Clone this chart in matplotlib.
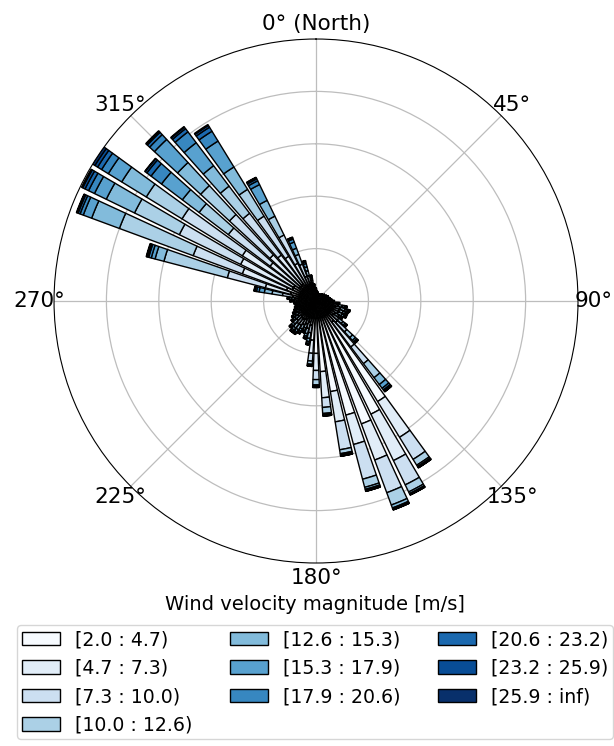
import numpy as np
import matplotlib
matplotlib.use("Agg")
import matplotlib.pyplot as plt
from matplotlib.patches import Patch

# 64 direction sectors, centred on multiples of 5.625 deg (clockwise from north)
n_sector = 64

bin_labels = ['[2.0 : 4.7)', '[4.7 : 7.3)', '[7.3 : 10.0)', '[10.0 : 12.6)',
              '[12.6 : 15.3)', '[15.3 : 17.9)', '[17.9 : 20.6)',
              '[20.6 : 23.2)', '[23.2 : 25.9)', '[25.9 : inf)']

theta_labels = ['0° (North)', '45°', '90°', '135°', '180°', '225°', '270°', '315°']

# frequency per sector for each speed bin (sector 0 = north)
freq_b0 = [.015, .012, .011, .010, .010, .010, .010, .011,
           .011, .012, .012, .014, .015, .015, .017, .018,
           .021, .027, .036, .040, .039, .039, .036, .045,
           .050, .100, .450, .480, .500, .450, .350, .270,
           .200, .150, .051, .045, .039, .042, .045, .045,
           .042, .036, .033, .030, .027, .026, .024, .026,
           .030, .033, .040, .100, .120, .100, .100, .080,
           .080, .080, .070, .060, .040, .030, .025, .018]
freq_b1 = [.013, .010, .009, .008, .008, .008, .008, .009,
           .009, .010, .010, .011, .013, .013, .014, .015,
           .018, .023, .030, .034, .033, .033, .030, .038,
           .060, .120, .160, .197, .147, .116, .117, .100,
           .065, .050, .043, .038, .033, .035, .038, .038,
           .035, .030, .028, .025, .023, .021, .020, .021,
           .025, .028, .050, .100, .180, .220, .230, .140,
           .160, .140, .130, .100, .060, .040, .025, .016]
freq_b2 = [.008, .007, .006, .005, .005, .005, .005, .006,
           .006, .007, .007, .008, .008, .008, .009, .010,
           .012, .015, .020, .023, .022, .022, .020, .026,
           .050, .080, .099, .103, .133, .137, .108, .037,
           .035, .030, .029, .026, .022, .024, .026, .026,
           .024, .020, .019, .017, .015, .014, .014, .014,
           .017, .019, .040, .150, .200, .260, .270, .200,
           .210, .200, .180, .120, .050, .030, .018, .012]
freq_b3 = [.006, .005, .004, .004, .004, .004, .004, .004,
           .004, .005, .005, .006, .006, .006, .007, .008,
           .009, .012, .016, .018, .017, .017, .016, .020,
           .030, .067, .026, .030, .050, .032, .015, .023,
           .020, .012, .022, .020, .017, .018, .020, .020,
           .018, .016, .014, .013, .012, .011, .010, .011,
           .013, .014, .040, .250, .300, .190, .160, .140,
           .150, .130, .120, .080, .040, .020, .012, .008]
freq_b4 = [.004, .003, .002, .002, .002, .002, .002, .002,
           .002, .003, .003, .003, .004, .004, .004, .004,
           .005, .006, .008, .009, .009, .009, .008, .010,
           .015, .033, .006, .007, .012, .008, .005, .005,
           .005, .004, .012, .010, .009, .010, .010, .010,
           .010, .008, .008, .007, .006, .006, .006, .006,
           .007, .008, .030, .035, .113, .120, .110, .080,
           .120, .098, .100, .067, .025, .015, .008, .005]
freq_b5 = [.002, .002, .002, .001, .001, .001, .001, .002,
           .002, .002, .002, .002, .002, .002, .002, .003,
           .003, .004, .005, .005, .005, .005, .005, .006,
           .007, .018, .003, .003, .004, .004, .002, .002,
           .002, .002, .007, .006, .005, .006, .006, .006,
           .006, .005, .004, .004, .004, .004, .003, .004,
           .004, .004, .020, .015, .034, .050, .060, .100,
           .120, .110, .116, .067, .025, .013, .006, .003]
freq_b6 = [.001, .001, .001, 0, 0, 0, 0, .001,
           .001, .001, .001, .001, .001, .001, .001, .001,
           .001, .002, .003, .003, .003, .003, .003, .003,
           .004, .008, .001, .001, .002, .002, .001, .001,
           .001, .001, .003, .003, .003, .003, .003, .003,
           .003, .003, .002, .002, .002, .002, .002, .002,
           .002, .002, .010, .010, .013, .025, .030, .050,
           .025, .052, .044, .016, .012, .007, .003, .002]
freq_b7 = [.001, 0, 0, 0, 0, 0, 0, 0,
           0, 0, 0, 0, .001, .001, .001, .001,
           .001, .001, .001, .001, .001, .001, .001, .001,
           .002, .005, .001, .001, .001, .001, .001, .001,
           .001, .001, .002, .001, .001, .001, .001, .001,
           .001, .001, .001, .001, .001, .001, .001, .001,
           .001, .001, .006, .005, .008, .015, .018, .020,
           .012, .015, .018, .008, .005, .003, .002, .001]
freq_b8 = [0, 0, 0, 0, 0, 0, 0, 0,
           0, 0, 0, 0, 0, 0, 0, 0,
           0, 0, .001, .001, .001, .001, .001, .001,
           .001, .003, .001, .001, .001, .001, .001, .001,
           .001, 0, .001, .001, .001, .001, .001, .001,
           .001, .001, .001, .001, 0, 0, 0, 0,
           .001, .001, .003, .003, .005, .010, .012, .008,
           .005, .007, .008, .005, .002, .001, .001, 0]
freq_b9 = [0, 0, 0, 0, 0, 0, 0, 0,
           0, 0, 0, 0, 0, 0, 0, 0,
           0, 0, 0, .001, 0, 0, 0, 0,
           .001, .001, 0, 0, 0, 0, 0, 0,
           0, 0, 0, 0, 0, 0, 0, 0,
           0, 0, 0, 0, 0, 0, 0, 0,
           0, 0, .001, .002, .002, .005, .010, .002,
           .003, .003, .004, .002, .001, .001, 0, 0]

table = [freq_b0, freq_b1, freq_b2, freq_b3, freq_b4,
         freq_b5, freq_b6, freq_b7, freq_b8, freq_b9]

theta = np.deg2rad(np.arange(n_sector) * 360.0 / n_sector)
opening = np.deg2rad(360.0 / n_sector) * 0.8
colors = plt.cm.Blues(np.linspace(0.0, 1.0, len(table)))

fig = plt.figure(figsize=(6.14, 7.46), dpi=100)
ax = fig.add_axes([0.088, 0.2453, 0.8534, 0.7024], projection='polar')
ax.set_theta_zero_location('N')
ax.set_theta_direction(-1)
ax.set_axisbelow(True)

offset = np.zeros(n_sector)
for vals, c in zip(table, colors):
    vals = np.asarray(vals, dtype=float)
    ax.bar(theta, vals, width=opening, bottom=offset, color=c,
           edgecolor='black', linewidth=1.0)
    offset += vals

rmax = offset.max()
ax.set_ylim(0, rmax)
ax.set_yticks(np.linspace(0, rmax, 6)[1:-1])
ax.set_yticklabels([])
ax.set_thetagrids(np.arange(0, 360, 45), labels=theta_labels, fontsize=15.5)
ax.tick_params(axis='x', pad=0.5)
ax.grid(color='#bdbdbd', linewidth=0.9)

handles = [Patch(facecolor=c, edgecolor='black', linewidth=1.0) for c in colors]
fig.legend(handles, bin_labels, ncol=3, loc='upper left',
           bbox_to_anchor=(8 / 614, 1 - 616 / 746), fontsize=13.6,
           borderpad=0.25)
fig.text(0.513, 1 - 605 / 746, 'Wind velocity magnitude [m/s]',
         ha='center', va='center', fontsize=14)

fig.savefig('out.png', dpi=100)
